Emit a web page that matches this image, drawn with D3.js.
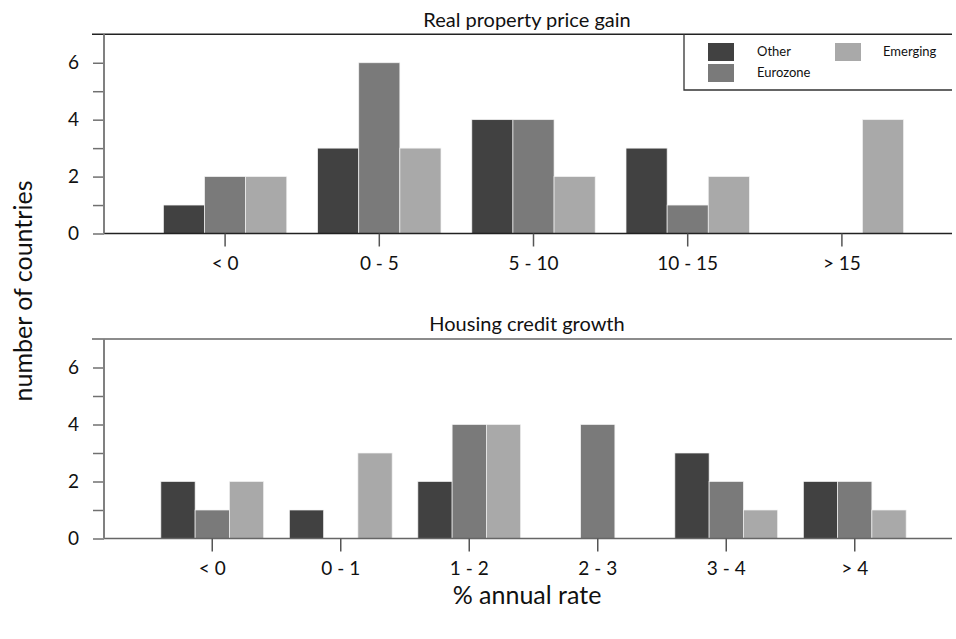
<!DOCTYPE html>
<html>
<head>
<meta charset="utf-8">
<script src="https://cdn.jsdelivr.net/npm/d3@7"></script>
<style>
  html, body { margin: 0; padding: 0; background: #fff; }
  svg { display: block; font-family: Lato, "Open Sans", sans-serif; }
</style>
</head>
<body>
<svg id="chart" width="956" height="639"></svg>
<script>
// Country counts per growth bucket
const series = ["Other", "Eurozone", "Emerging"];
const colors = ["#414141", "#7a7a7a", "#a9a9a9"];

const priceCategories = ["< 0", "0 - 5", "5 - 10", "10 - 15", "> 15"];
const priceOther    = [1, 3, 4, 3, 0];
const priceEurozone = [2, 6, 4, 1, 0];
const priceEmerging = [2, 3, 2, 2, 4];

const creditCategories = ["< 0", "0 - 1", "1 - 2", "2 - 3", "3 - 4", "> 4"];
const creditOther    = [2, 1, 2, 0, 3, 2];
const creditEurozone = [1, 0, 4, 4, 2, 2];
const creditEmerging = [2, 3, 4, 0, 1, 1];

const yTicks = [0, 1, 2, 3, 4, 5, 6];
const yMax = 7;

const svg = d3.select("#chart");

const axisX = 104, plotLeft = 148, plotRight = 919, frameRight = 952;

function panel(title, cats, values, top, bottom, titleY, frameColor) {
  const g = svg.append("g");
  const x = d3.scaleBand().domain(cats).range([plotLeft, plotRight])
    .paddingInner(0.2).paddingOuter(0.1);
  const xs = d3.scaleBand().domain(series).range([0, x.bandwidth()]);
  const y = d3.scaleLinear().domain([0, yMax]).range([bottom, top]);

  // panel title
  g.append("text").attr("x", 527).attr("y", titleY).attr("text-anchor", "middle")
    .attr("font-size", 20).attr("fill", "#111").text(title);

  // top frame line
  g.append("line").attr("x1", 92).attr("x2", frameRight)
    .attr("y1", y(yMax)).attr("y2", y(yMax))
    .attr("stroke", frameColor).attr("stroke-width", 1.5);

  // grouped bars
  const rows = [];
  cats.forEach((c, i) => series.forEach((s, j) => rows.push({ c, s, j, v: values[j][i] })));
  g.selectAll("rect.bar").data(rows).join("rect").attr("class", "bar")
    .attr("x", d => x(d.c) + xs(d.s))
    .attr("width", xs.bandwidth())
    .attr("y", d => y(d.v))
    .attr("height", d => y(0) - y(d.v))
    .attr("fill", d => colors[d.j])
    .attr("stroke", "#f2f2f2").attr("stroke-width", 0.7);

  // baseline
  g.append("line").attr("x1", axisX).attr("x2", frameRight)
    .attr("y1", y(0)).attr("y2", y(0))
    .attr("stroke", frameColor).attr("stroke-width", 1.5);

  // y axis: ticks at every unit, labels on even values
  const ya = d3.axisLeft(y).tickValues(yTicks).tickSize(11).tickPadding(14)
    .tickFormat(d => d % 2 === 0 ? d : "");
  const yg = g.append("g").attr("transform", `translate(${axisX},0)`).call(ya);
  yg.select(".domain").remove();
  yg.selectAll(".tick line").attr("stroke", "#707070").attr("stroke-width", 1.5);
  yg.selectAll(".tick text").attr("font-size", 19).attr("fill", "#111")
    .attr("font-family", "Lato, sans-serif");
  g.append("line").attr("x1", axisX).attr("x2", axisX)
    .attr("y1", y(yMax)).attr("y2", y(0))
    .attr("stroke", "#808080").attr("stroke-width", 2);

  // x axis ticks and labels
  const xa = d3.axisBottom(x).tickSize(13).tickPadding(10);
  const xg = g.append("g").attr("transform", `translate(0,${y(0)})`).call(xa);
  xg.select(".domain").remove();
  xg.selectAll(".tick line").attr("stroke", "#555").attr("stroke-width", 1.5);
  xg.selectAll(".tick text").attr("font-size", 19).attr("fill", "#111")
    .attr("font-family", "Lato, sans-serif");
}

panel("Real property price gain", priceCategories,
  [priceOther, priceEurozone, priceEmerging], 34.3, 233.5, 27, "#222");
panel("Housing credit growth", creditCategories,
  [creditOther, creditEurozone, creditEmerging], 339, 538.5, 331, "#666");

// legend
const lg = svg.append("g");
lg.append("path").attr("d", `M684,34 V90 H${frameRight}`)
  .attr("fill", "none").attr("stroke", "#333").attr("stroke-width", 1.3);
const legendPos = [[708, 43], [708, 64], [835, 43]];
series.forEach((s, i) => {
  const [lx, ly] = legendPos[i];
  lg.append("rect").attr("x", lx).attr("y", ly).attr("width", 26).attr("height", 18)
    .attr("fill", colors[i]);
  lg.append("text").attr("x", lx + (i === 2 ? 48 : 49)).attr("y", ly + 13)
    .attr("font-size", 13).attr("fill", "#111").text(s);
});

// axis titles
svg.append("text").attr("transform", "translate(32,291) rotate(-90)")
  .attr("text-anchor", "middle").attr("font-size", 25).attr("fill", "#111")
  .text("number of countries");
svg.append("text").attr("x", 527).attr("y", 604).attr("text-anchor", "middle")
  .attr("font-size", 25).attr("fill", "#111").text("% annual rate");
</script>
</body>
</html>
